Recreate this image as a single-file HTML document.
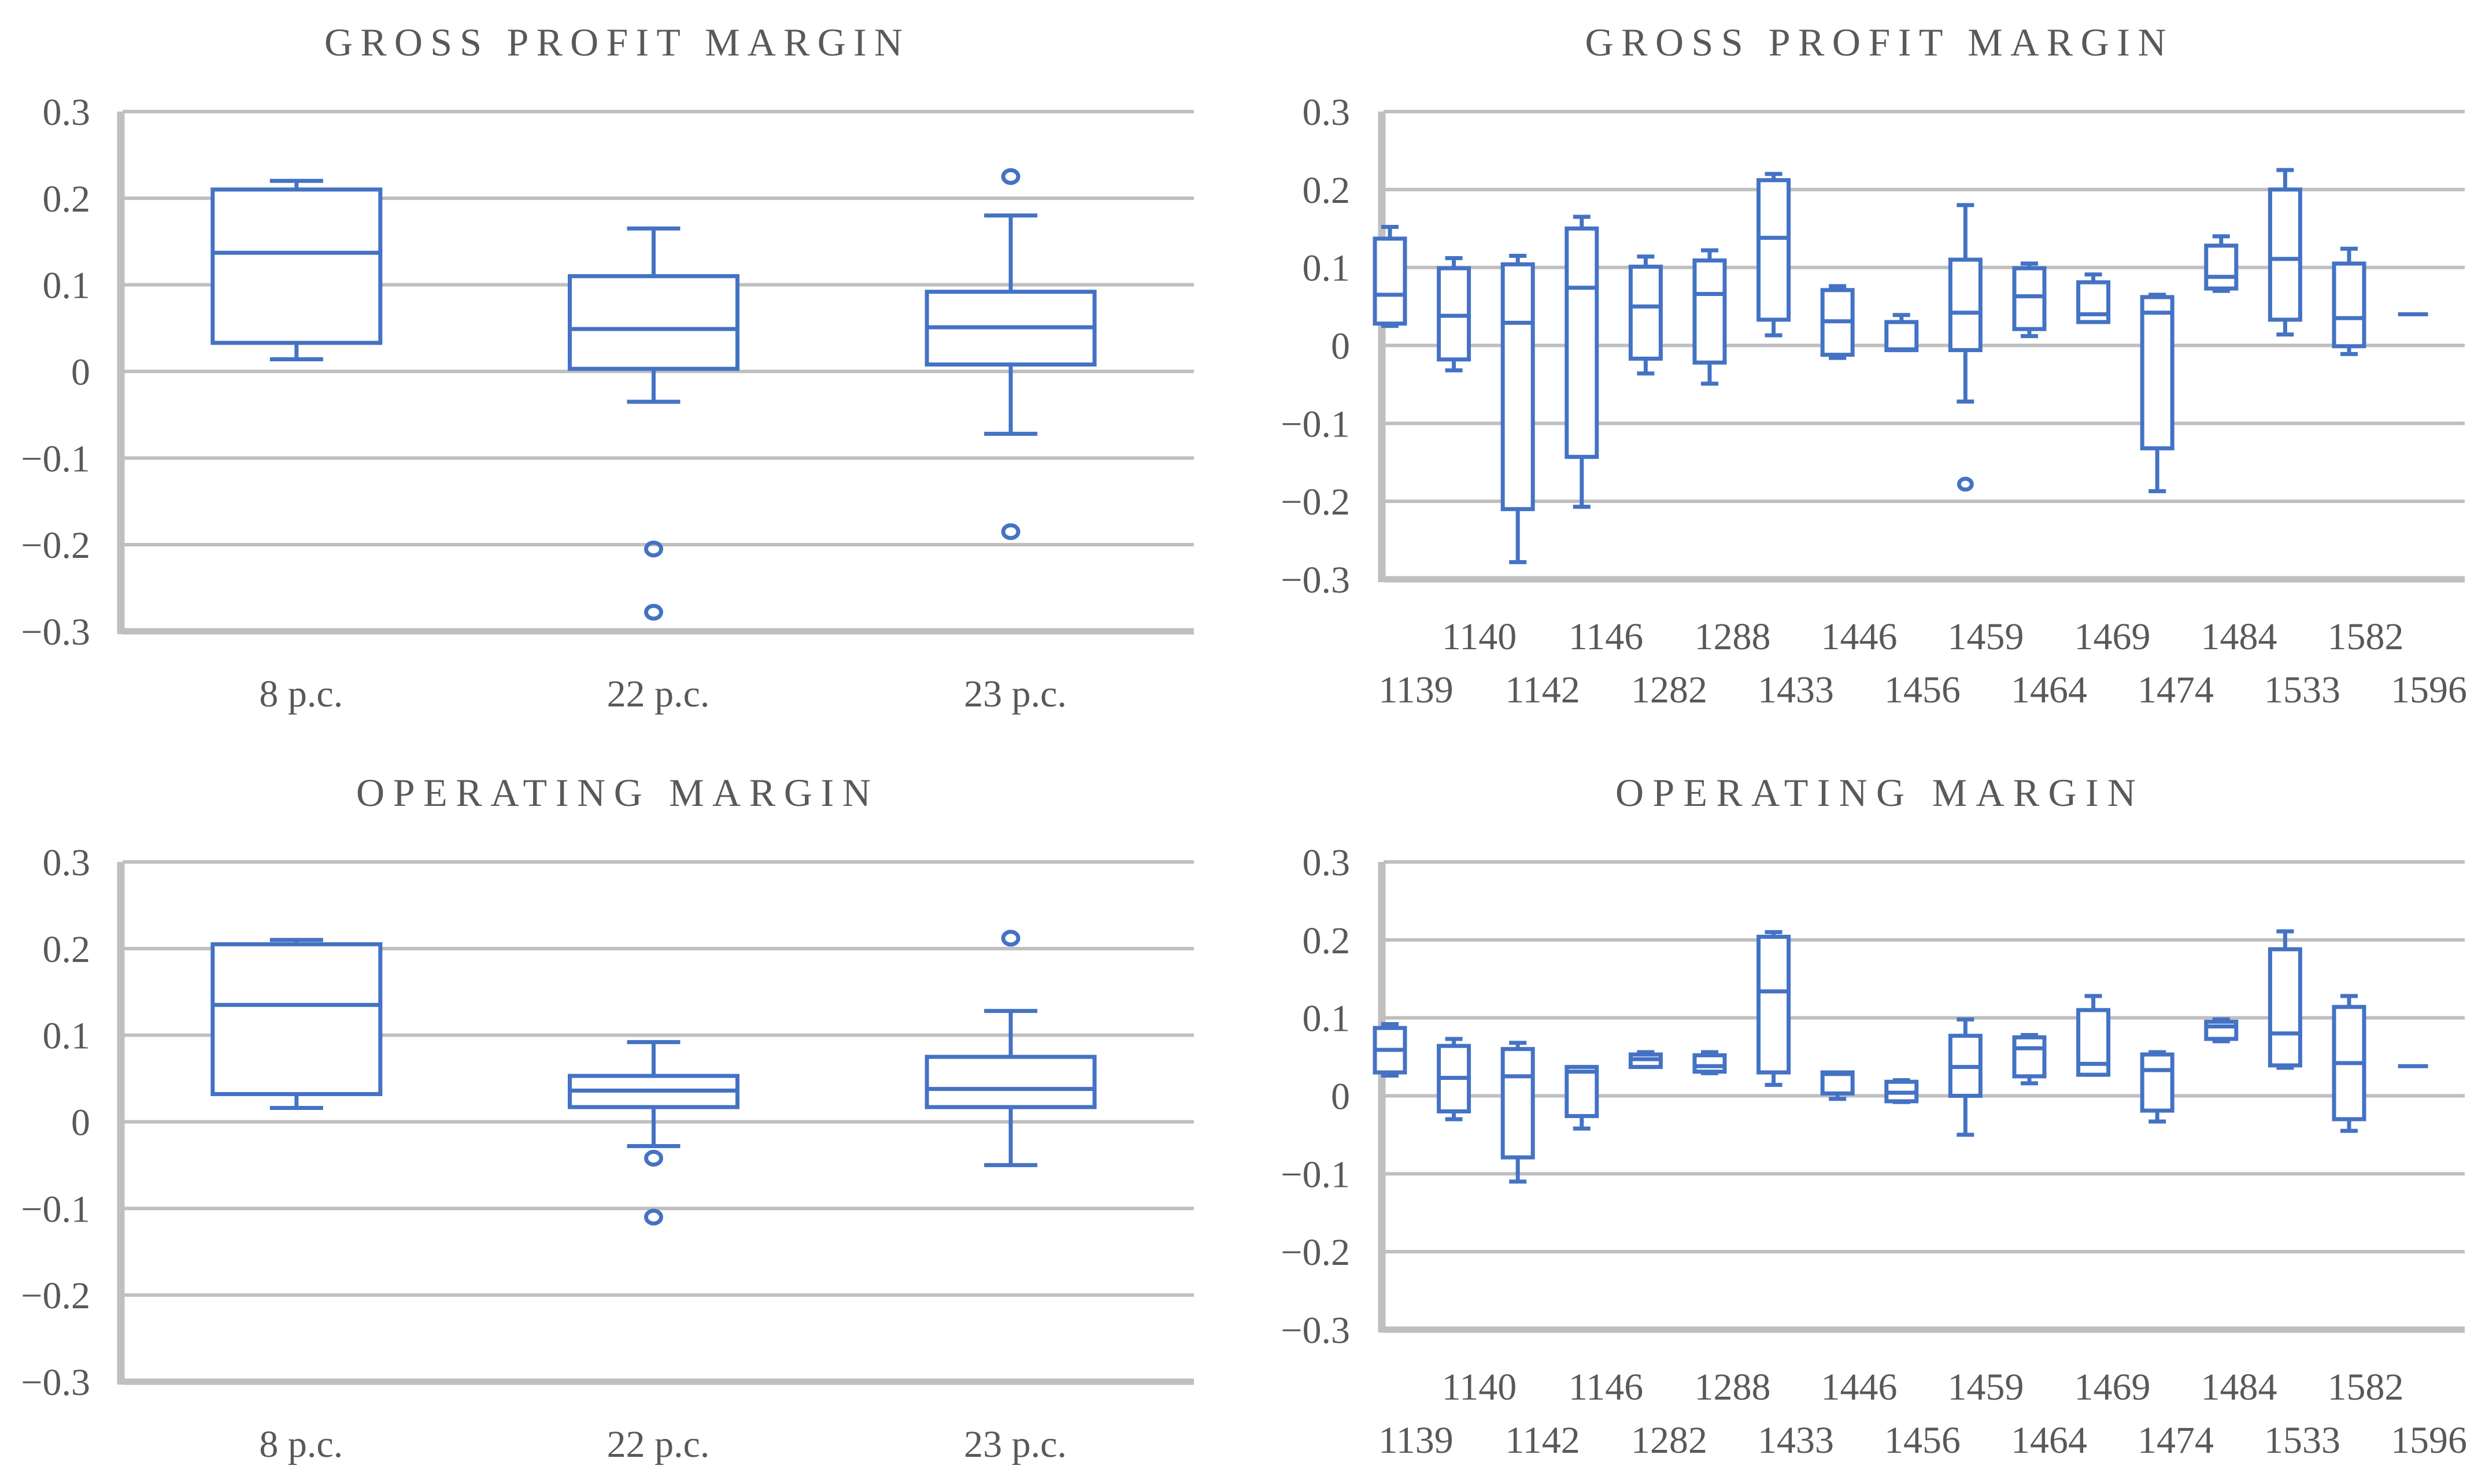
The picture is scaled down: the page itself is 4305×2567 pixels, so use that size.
<!DOCTYPE html>
<html><head><meta charset="utf-8"><style>
html,body{margin:0;padding:0;background:#fff;}
svg{display:block;}
text{font-family:"Liberation Serif",serif;fill:#595959;}
</style></head><body>
<svg id="chart" width="4305" height="2567" viewBox="0 0 4305 2567" xmlns="http://www.w3.org/2000/svg"></svg>
<script>
// ---------- data ----------
const yTicks = [0.3, 0.2, 0.1, 0, -0.1, -0.2, -0.3];
const yTickLabels = ["0.3", "0.2", "0.1", "0", "\u22120.1", "\u22120.2", "\u22120.3"];
const groupCats = ["8 p.c.", "22 p.c.", "23 p.c."];
const firmCats = ["1139","1140","1142","1146","1282","1288","1433","1446","1456","1459","1464","1469","1474","1484","1533","1582","1596"];

// [min, q1, median, q3, max]
const grossGroup = [[0.014,0.033,0.137,0.21,0.22],[-0.035,0.003,0.049,0.11,0.165],[-0.072,0.008,0.051,0.092,0.18]];
const grossGroupOut = [[],[-0.205,-0.278],[0.225,-0.185]];
const operGroup = [[0.016,0.032,0.135,0.205,0.21],[-0.028,0.017,0.036,0.053,0.092],[-0.05,0.017,0.038,0.075,0.128]];
const operGroupOut = [[],[-0.042,-0.11],[0.212]];

const grossFirm = [[0.025,0.028,0.065,0.137,0.152],[-0.032,-0.018,0.038,0.099,0.112],[-0.278,-0.21,0.029,0.104,0.115],[-0.207,-0.143,0.074,0.15,0.165],[-0.036,-0.017,0.05,0.101,0.114],[-0.049,-0.022,0.066,0.109,0.122],[0.013,0.033,0.138,0.212,0.22],[-0.016,-0.012,0.031,0.071,0.076],[-0.006,-0.006,-0.005,0.03,0.039],[-0.072,-0.006,0.042,0.11,0.18],[0.012,0.021,0.063,0.099,0.105],[0.03,0.03,0.04,0.081,0.091],[-0.187,-0.132,0.042,0.062,0.065],[0.07,0.073,0.088,0.128,0.14],[0.014,0.033,0.111,0.2,0.225],[-0.011,-0.001,0.035,0.105,0.124],[0.04,0.04,0.04,0.04,0.04]];
const grossFirmOut = [[],[],[],[],[],[],[],[],[],[-0.178],[],[],[],[],[],[],[]];
const operFirm = [[0.026,0.03,0.059,0.087,0.092],[-0.03,-0.02,0.023,0.064,0.073],[-0.11,-0.079,0.025,0.06,0.068],[-0.042,-0.026,0.031,0.037,0.037],[0.037,0.037,0.047,0.053,0.056],[0.029,0.031,0.038,0.052,0.056],[0.014,0.03,0.134,0.204,0.21],[-0.004,0.003,0.028,0.03,0.03],[-0.008,-0.007,0.004,0.018,0.02],[-0.05,0.0,0.037,0.077,0.098],[0.016,0.025,0.061,0.075,0.078],[0.027,0.027,0.041,0.11,0.128],[-0.033,-0.019,0.033,0.053,0.056],[0.07,0.073,0.089,0.095,0.098],[0.036,0.039,0.08,0.188,0.211],[-0.045,-0.03,0.042,0.114,0.128],[0.038,0.038,0.038,0.038,0.038]];
const operFirmOut = [[],[],[],[],[],[],[],[],[],[],[],[],[],[],[],[],[]];

// ---------- drawing ----------
const svg = document.getElementById('chart');
const NS = 'http://www.w3.org/2000/svg';
const BLUE = '#4472c4', GRID = '#bfbfbf';
function mk(tag, attrs, parent){
  const e = document.createElementNS(NS, tag);
  for (const k in attrs) e.setAttribute(k, attrs[k]);
  (parent||svg).appendChild(e); return e;
}

function panel(opt){
  const g = mk('g', {});
  
  
  const y = v => opt.yTop + (0.3 - v) / 0.6 * (opt.yBot - opt.yTop);
  const t = mk('text', {x: opt.titleX, y: opt.titleY, 'font-size': 68, 'text-anchor': 'middle', textLength: opt.titleW, lengthAdjust: 'spacing'}, g);
  t.textContent = opt.title;
  
  
  yTicks.forEach((v, i) => {
    const ln = mk('line', {x1: opt.x0, x2: opt.x1, y1: y(v), y2: y(v), stroke: GRID, 'stroke-width': i === yTicks.length-1 ? 11 : 6}, g);
    
    
    const tl = mk('text', {x: opt.tickX, y: y(v) + 23, 'font-size': 66, 'text-anchor': 'end'}, g);
    tl.textContent = yTickLabels[i];
    
    
  });
  const ax = mk('line', {x1: opt.x0 - 3, x2: opt.x0 - 3, y1: y(0.3), y2: y(-0.3) + 5, stroke: GRID, 'stroke-width': 13}, g);
  
  
  opt.cats.forEach((c, i) => {
    const lx = opt.labelX(i);
    const row = opt.labelRow ? opt.labelRow(i) : 0;
    const tl = mk('text', {x: lx, y: opt.labelY[row], 'font-size': 66, 'text-anchor': 'middle'}, g);
    tl.textContent = c;
    
    
  });
  opt.stats.forEach((s, i) => {
    const cx = opt.boxX(i), w = opt.boxW, cw = opt.capW;
    const bg = mk('g', {fill: 'none', stroke: BLUE, 'stroke-width': opt.sw}, g);
    
    
    const [mn, q1, md, q3, mx] = s;
    if (mx === mn) {
      mk('line', {x1: cx - w/2, x2: cx + w/2, y1: y(md), y2: y(md)}, bg);
      return;
    }
    mk('line', {x1: cx, x2: cx, y1: y(mx), y2: y(q3)}, bg);
    mk('line', {x1: cx, x2: cx, y1: y(q1), y2: y(mn)}, bg);
    mk('line', {x1: cx - cw/2, x2: cx + cw/2, y1: y(mx), y2: y(mx)}, bg);
    mk('line', {x1: cx - cw/2, x2: cx + cw/2, y1: y(mn), y2: y(mn)}, bg);
    mk('rect', {x: cx - w/2, y: y(q3), width: w, height: Math.max(1, y(q1) - y(q3)), fill: '#fff'}, bg);
    mk('line', {x1: cx - w/2, x2: cx + w/2, y1: y(md), y2: y(md)}, bg);
    opt.outs[i].forEach(o => {
      const c = mk('ellipse', {cx: cx, cy: y(o), rx: opt.r, ry: opt.r * 0.85}, bg);
      
      
    });
  });
}

const leftBand = (2065 - 212) / 3;
[[grossGroup, grossGroupOut, 'GROSS PROFIT MARGIN', 0, 'gross-margin-by-group'],
 [operGroup, operGroupOut, 'OPERATING MARGIN', 1298, 'operating-margin-by-group']].forEach(([st, out, title, dy, name]) => {
  panel({name, title, stats: st, outs: out, cats: groupCats,
    x0: 212, x1: 2065, yTop: 193 + dy, yBot: 1092 + dy,
    titleX: 1061, titleY: 96 + dy, titleW: title.length > 17 ? 1000 : 890,
    tickX: 156,
    labelX: i => 212 + leftBand * (i + 0.5), labelY: [1222 + dy],
    boxX: i => 212 + leftBand * (i + 0.5) - 8, boxW: 290, capW: 92, sw: 7, r: 13});
});
const step = 110.6;
[[grossFirm, grossFirmOut, 'GROSS PROFIT MARGIN', 0, 'gross-margin-by-firm'],
 [operFirm, operFirmOut, 'OPERATING MARGIN', 1298, 'operating-margin-by-firm']].forEach(([st, out, title, dy, name]) => {
  panel({name, title, stats: st, outs: out, cats: firmCats,
    x0: 2393, x1: 4263, yTop: 193 + dy, yBot: 1002 + dy,
    titleX: 3244, titleY: 96 + dy, titleW: title.length > 17 ? 1005 : 900,
    tickX: 2335,
    labelX: i => 2449 + 109.5 * i, labelRow: i => (i % 2 === 0 ? 1 : 0), labelY: [1123 + dy, 1215 + dy],
    boxX: i => 2404 + step * i, boxW: 52, capW: 30, sw: 7, r: 11});
});
</script>
</body></html>
